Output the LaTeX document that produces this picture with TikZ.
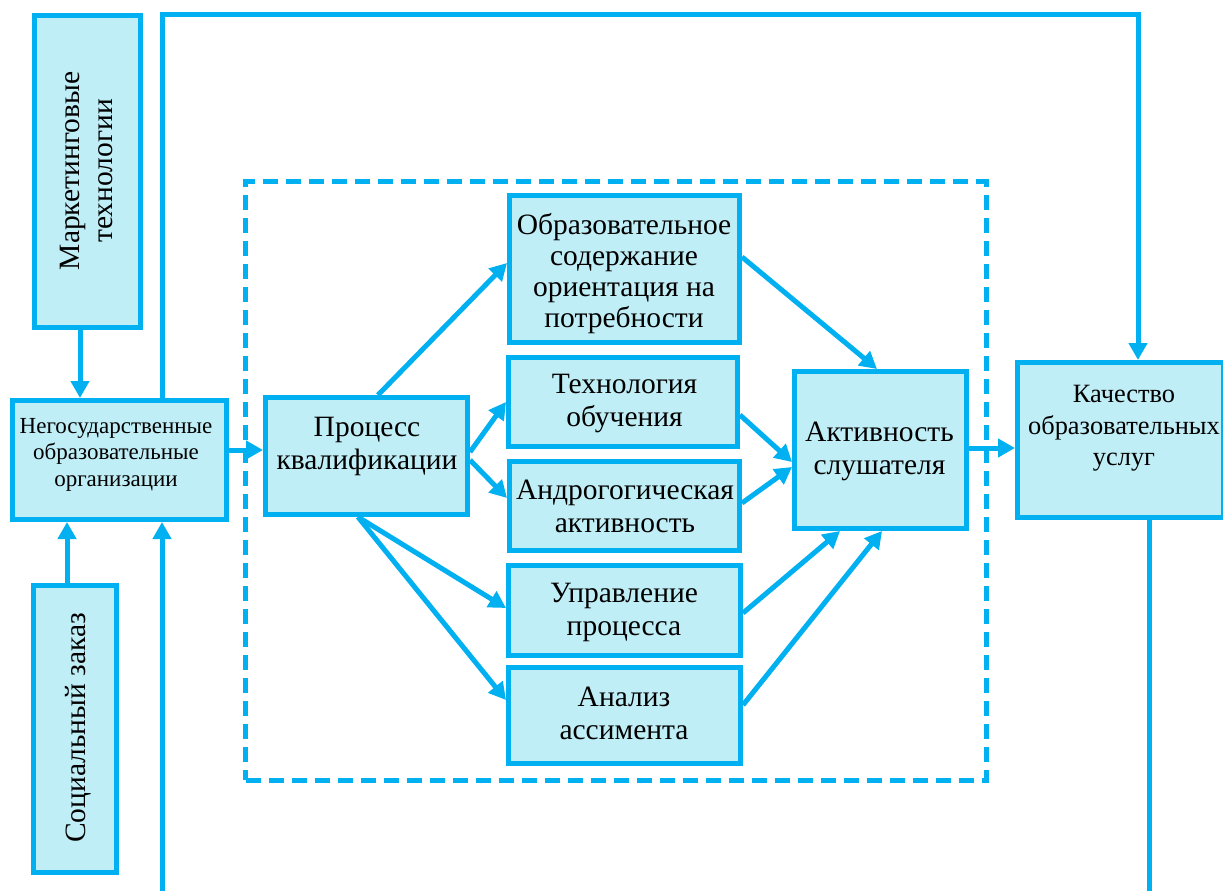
\documentclass[tikz,border=0pt]{standalone}
\usepackage{fontspec}
\setmainfont{Liberation Serif}
\usetikzlibrary{arrows.meta,calc}
\definecolor{cline}{RGB}{0,176,240}
\definecolor{cfill}{RGB}{192,238,246}
\begin{document}
\begin{tikzpicture}[x=1pt,y=-1pt,
 box/.style={draw=cline,fill=cfill,line width=5pt,inner sep=0pt},
 conn/.style={draw=cline,line width=5pt},
 arr/.style={conn,-{Triangle[length=17pt,width=18pt]}},
 txt/.style={align=center,inner sep=0pt,font=\fontsize{29.5}{33}\selectfont,execute at begin node=\strut,execute at end node=\strut},
 frame/.style={draw=cline,line width=5pt,dash pattern=on 15pt off 8pt,inner sep=0pt}
]
\useasboundingbox (0,0) rectangle (1223,891);
\clip (0,0) rectangle (1223,891);
% dashed frame
\node[frame,minimum width=740.5pt,minimum height=598.5pt] (fr) at (615.75,480.75) {};
% boxes
\node[box,minimum width=106pt,minimum height=312pt] (mkt) at (87.5,171.5) {};
\node[box,minimum width=214pt,minimum height=119pt] (ngo) at (119.5,460) {};
\node[box,minimum width=83pt,minimum height=287pt] (soc) at (75,729) {};
\node[box,minimum width=202pt,minimum height=117pt] (proc) at (366.5,456) {};
\node[box,minimum width=230pt,minimum height=147pt] (obr) at (624.5,269) {};
\node[box,minimum width=229pt,minimum height=89pt] (tech) at (623,402) {};
\node[box,minimum width=230pt,minimum height=89pt] (andr) at (624.5,506) {};
\node[box,minimum width=232pt,minimum height=90pt] (upr) at (624.5,610.5) {};
\node[box,minimum width=232pt,minimum height=96pt] (anal) at (624.5,715.5) {};
\node[box,minimum width=172pt,minimum height=157pt] (akt) at (880.5,450) {};
\node[box,minimum width=206pt,minimum height=155pt] (kach) at (1120.5,440) {};
% texts
\node[txt,rotate=90] (tmkt) at (91.4,171) {Маркетинговые\\технологии};
\node[txt,rotate=90] (tsoc) at (78.4,728) {Социальный заказ};
\node[txt,font=\fontsize{23}{26.5}\selectfont] (tngo) at (116,456.2) {Негосударственные\\образовательные\\организации};
\node[txt] (tproc) at (367,448.4) {Процесс\\квалификации};
\node[txt,font=\fontsize{29.5}{31}\selectfont] (tobr) at (624,274.8) {Образовательное\\содержание\\ориентация на\\потребности};
\node[txt] (ttech) at (624.5,405) {Технология\\обучения};
\node[txt] (tandr) at (625,511) {Андрогогическая\\активность};
\node[txt] (tupr) at (624,614) {Управление\\процесса};
\node[txt] (tanal) at (624,718.4) {Анализ\\ассимента};
\node[txt] (takt) at (879.5,453.4) {Активность\\слушателя};
\node[txt,font=\fontsize{26.4}{31.5}\selectfont] (tkach) at (1124,430.2) {Качество\\образовательных\\услуг};
% connectors
\draw[arr] ([xshift=-7.5pt]mkt.south) -- ([xshift=-7.5pt]mkt.south |- ngo.north);
\draw[arr] ([xshift=-8pt]soc.north) -- ([xshift=-8pt]soc.north |- ngo.south);
\draw[arr] ([yshift=10pt]ngo.east) -- ([yshift=10pt]ngo.east -| proc.west);
\draw[arr] ([xshift=11.5pt]proc.north) -- ([yshift=6pt]obr.west);
\draw[arr] ([yshift=4pt]proc.east) -- (tech.west);
\draw[arr] ([yshift=-4pt]proc.east) -- ([yshift=8pt]andr.west);
\draw[arr] ([xshift=-8.5pt]proc.south) -- ([yshift=2.5pt]upr.west);
\draw[arr] ([xshift=-8.5pt]proc.south) -- ([yshift=15.5pt]anal.west);
\draw[arr] ([yshift=12pt]obr.east) -- ([xshift=-3.5pt]akt.north);
\draw[arr] ([yshift=-13pt]tech.east) -- ([yshift=-12pt]akt.west);
\draw[arr] ([yshift=3pt]andr.east) -- ([yshift=-17pt]akt.west);
\draw[arr] ([yshift=-2.5pt]upr.east) -- ([xshift=-40.5pt]akt.south);
\draw[arr] ([yshift=10.5pt]anal.east) -- ([xshift=1.5pt]akt.south);
\draw[arr] ([yshift=2pt]akt.east) -- ([yshift=2pt]akt.east -| kach.west);
% feedback loops
\coordinate (top) at (600,15);
\coordinate (bot) at (600,910);
\draw[arr] ([xshift=42.5pt]ngo.north) |- (top) -| ([xshift=17.5pt]kach.north);
\draw[arr] ([xshift=28.5pt]kach.south) |- (bot) -| ([xshift=42.5pt]ngo.south);
\end{tikzpicture}
\end{document}
